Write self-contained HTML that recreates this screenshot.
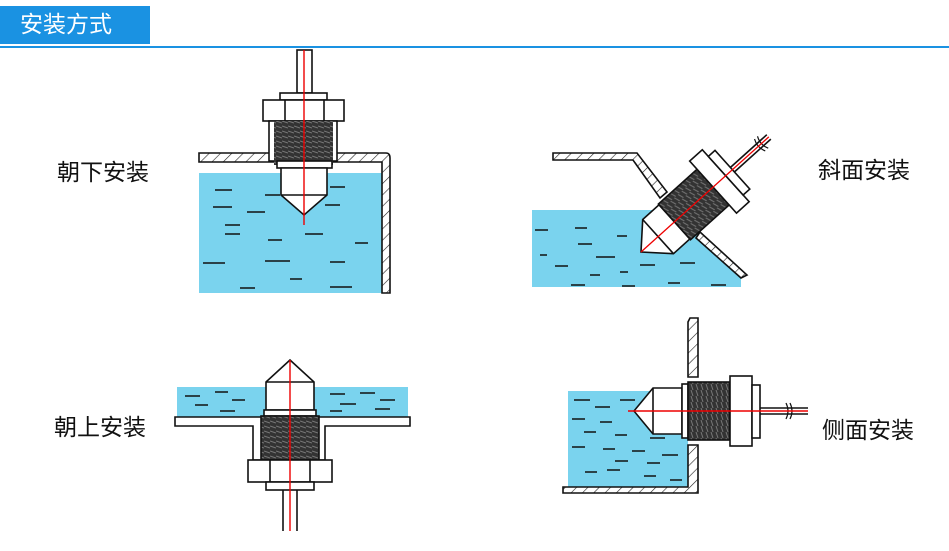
<!DOCTYPE html>
<html><head><meta charset="utf-8">
<style>
html,body{margin:0;padding:0;background:#fff;}
body{width:949px;height:551px;overflow:hidden;position:relative;font-family:"Liberation Sans","Noto Sans CJK SC",sans-serif;}
.lbl{position:absolute;font-size:23px;color:#111;white-space:nowrap;line-height:1;}
</style></head><body>
<div style="position:absolute;left:0;top:6px;width:150px;height:38px;background:#1a92e2;"></div>
<div class="lbl" style="left:20px;top:13px;color:#fff;font-size:23px;">安装方式</div>
<div style="position:absolute;left:0;top:46px;width:949px;height:2px;background:#1a92e2;"></div>
<div class="lbl" style="left:57px;top:161px;">朝下安装</div>
<div class="lbl" style="left:818px;top:159px;">斜面安装</div>
<div class="lbl" style="left:54px;top:416px;">朝上安装</div>
<div class="lbl" style="left:822px;top:419px;">侧面安装</div>
<svg width="949" height="551" style="position:absolute;left:0;top:0" xmlns="http://www.w3.org/2000/svg">
<defs>
<pattern id="h" width="8" height="8" patternUnits="userSpaceOnUse" patternTransform="rotate(45)">
<rect width="8" height="8" fill="#fff"/><line x1="0" y1="0" x2="0" y2="8" stroke="#222" stroke-width="1.2"/></pattern>
<pattern id="t" width="6" height="5" patternUnits="userSpaceOnUse">
<rect width="6" height="5" fill="#333"/><line x1="0" y1="1" x2="6" y2="3" stroke="#777" stroke-width="1"/></pattern>
<pattern id="tv" width="5" height="6" patternUnits="userSpaceOnUse">
<rect width="5" height="6" fill="#333"/><line x1="1" y1="0" x2="3" y2="6" stroke="#777" stroke-width="1"/></pattern>
</defs>
<g stroke="#111" stroke-width="1.6" fill="none">
<!-- Panel 1 -->
<rect x="199" y="173" width="183" height="120" fill="#7ad3ee" stroke="none"/>
<path d="M199 153 H386 Q390 153 390 158 V293 H382 V162 H199 Z" fill="url(#h)"/>
<rect x="297" y="50" width="15" height="43" fill="#fff"/>
<rect x="280" y="93" width="47" height="7" fill="#fff"/>
<rect x="263" y="100" width="81" height="21" fill="#fff"/>
<line x1="285" y1="100" x2="285" y2="121"/><line x1="324" y1="100" x2="324" y2="121"/>
<rect x="269" y="121" width="68" height="40" fill="#fff"/>
<rect x="274" y="121" width="59" height="44" fill="url(#t)" stroke="none"/>
<rect x="277" y="161" width="55" height="7" fill="#fff"/>
<path d="M281 168 H327 V195 L304 215 L281 195 Z" fill="#fff"/>
<line x1="281" y1="195" x2="327" y2="195"/>
<!-- Panel 2 -->
<path d="M532 210 H660 L700 236 L741 272 V287 H532 Z" fill="#7ad3ee" stroke="none"/>
<path d="M553 153 H637 L667 192 L660 198 L633 160 H553 Z" fill="url(#h)"/>
<path d="M700 232 L747 275 L741 278 L696 238 Z" fill="url(#h)"/>
<g transform="translate(641,252) rotate(-42)">
<line x1="122" y1="-3" x2="172" y2="-3"/><line x1="122" y1="3" x2="172" y2="3"/>
<path d="M160 -8 Q156 0 160 8 M164 -8 Q160 0 164 8" stroke-width="1.2"/>
<path d="M0 0 L23 -23 H45 V23 H23 Z" fill="#fff"/>
<line x1="23" y1="-23" x2="23" y2="23"/>
<rect x="45" y="-24" width="52" height="48" fill="url(#tv)"/>
<rect x="97" y="-35" width="17" height="70" fill="#fff"/>
<rect x="114" y="-26" width="9" height="52" fill="#fff"/>
<line x1="0" y1="0" x2="172" y2="0" stroke="#e00" stroke-width="1.3"/>
</g>
<!-- Panel 3 -->
<rect x="177" y="387" width="90" height="30" fill="#7ad3ee" stroke="none"/>
<rect x="313" y="387" width="95" height="30" fill="#7ad3ee" stroke="none"/>
<path d="M175 417 H410 V426 H325 V460 H253 V426 H175 Z" fill="#fff"/>
<path d="M290 360 L314 382 V410 H266 V382 Z" fill="#fff"/>
<line x1="266" y1="382" x2="314" y2="382"/>
<rect x="264" y="410" width="52" height="6" fill="#fff"/>
<rect x="261" y="416" width="58" height="44" fill="url(#t)"/>
<rect x="248" y="460" width="84" height="22" fill="#fff"/>
<line x1="270" y1="460" x2="270" y2="482"/><line x1="310" y1="460" x2="310" y2="482"/>
<rect x="266" y="482" width="48" height="8" fill="#fff"/>
<line x1="283" y1="490" x2="283" y2="531"/><line x1="297" y1="490" x2="297" y2="531"/>
<!-- Panel 4 -->
<rect x="568" y="391" width="120" height="96" fill="#7ad3ee" stroke="none"/>
<path d="M690 318 H698 V377 H688 V322 Z" fill="url(#h)"/>
<path d="M688 445 H698 V493 H563 V487 H688 Z" fill="url(#h)"/>
<path d="M634 411 L653 388 H682 V434 H653 Z" fill="#fff"/>
<line x1="653" y1="388" x2="653" y2="434"/>
<rect x="682" y="384" width="6" height="54" fill="#fff"/>
<rect x="688" y="382" width="42" height="58" fill="url(#tv)"/>
<rect x="730" y="376" width="22" height="70" fill="#fff"/>
<rect x="752" y="385" width="8" height="53" fill="#fff"/>
<line x1="760" y1="408" x2="808" y2="408"/><line x1="760" y1="414" x2="808" y2="414"/>
<path d="M786 403 Q790 411 786 419 M790 403 Q794 411 790 419" stroke-width="1.2"/>
</g>
<g stroke="#111" stroke-width="1.5">
<line x1="215" y1="190" x2="232" y2="190"/><line x1="265" y1="195" x2="280" y2="195"/><line x1="330" y1="187" x2="345" y2="187"/>
<line x1="213" y1="207" x2="232" y2="207"/><line x1="247" y1="212" x2="265" y2="212"/><line x1="325" y1="205" x2="340" y2="205"/>
<line x1="225" y1="225" x2="240" y2="225"/><line x1="225" y1="234" x2="240" y2="234"/><line x1="305" y1="234" x2="323" y2="234"/>
<line x1="268" y1="240" x2="282" y2="240"/><line x1="355" y1="243" x2="368" y2="243"/><line x1="203" y1="263" x2="225" y2="263"/>
<line x1="265" y1="261" x2="290" y2="261"/><line x1="330" y1="262" x2="345" y2="262"/><line x1="290" y1="279" x2="302" y2="279"/>
<line x1="240" y1="288" x2="255" y2="288"/><line x1="330" y1="287" x2="352" y2="287"/>
<line x1="535" y1="230" x2="548" y2="230"/><line x1="575" y1="228" x2="587" y2="228"/><line x1="617" y1="236" x2="627" y2="236"/>
<line x1="578" y1="244" x2="592" y2="244"/><line x1="596" y1="257" x2="615" y2="257"/><line x1="540" y1="255" x2="547" y2="255"/>
<line x1="555" y1="266" x2="568" y2="266"/><line x1="640" y1="265" x2="655" y2="265"/><line x1="680" y1="263" x2="695" y2="263"/>
<line x1="590" y1="275" x2="600" y2="275"/><line x1="620" y1="272" x2="628" y2="272"/><line x1="571" y1="285" x2="585" y2="285"/>
<line x1="622" y1="286" x2="635" y2="286"/><line x1="668" y1="283" x2="680" y2="283"/><line x1="711" y1="285" x2="726" y2="285"/>
<line x1="185" y1="396" x2="200" y2="396"/><line x1="215" y1="392" x2="228" y2="392"/><line x1="232" y1="400" x2="245" y2="400"/>
<line x1="195" y1="405" x2="208" y2="405"/><line x1="220" y1="411" x2="235" y2="411"/><line x1="330" y1="394" x2="345" y2="394"/>
<line x1="360" y1="393" x2="375" y2="393"/><line x1="380" y1="400" x2="395" y2="400"/><line x1="340" y1="404" x2="356" y2="404"/>
<line x1="375" y1="409" x2="390" y2="409"/><line x1="330" y1="411" x2="342" y2="411"/>
<line x1="574" y1="400" x2="590" y2="400"/><line x1="595" y1="407" x2="610" y2="407"/><line x1="620" y1="400" x2="635" y2="400"/>
<line x1="572" y1="419" x2="585" y2="419"/><line x1="600" y1="422" x2="612" y2="422"/><line x1="584" y1="432" x2="596" y2="432"/>
<line x1="615" y1="435" x2="627" y2="435"/><line x1="650" y1="438" x2="665" y2="438"/><line x1="572" y1="447" x2="585" y2="447"/>
<line x1="603" y1="449" x2="615" y2="449"/><line x1="632" y1="451" x2="645" y2="451"/><line x1="662" y1="455" x2="678" y2="455"/>
<line x1="615" y1="461" x2="628" y2="461"/><line x1="647" y1="463" x2="660" y2="463"/><line x1="585" y1="472" x2="597" y2="472"/>
<line x1="607" y1="470" x2="620" y2="470"/><line x1="644" y1="476" x2="656" y2="476"/><line x1="670" y1="480" x2="682" y2="480"/>
</g>
<g stroke="#e00" stroke-width="1.4">
<line x1="304" y1="50" x2="304" y2="225"/>
<line x1="290" y1="360" x2="290" y2="531"/>
<line x1="628" y1="411" x2="808" y2="411"/>
</g>
</svg>
</body></html>
